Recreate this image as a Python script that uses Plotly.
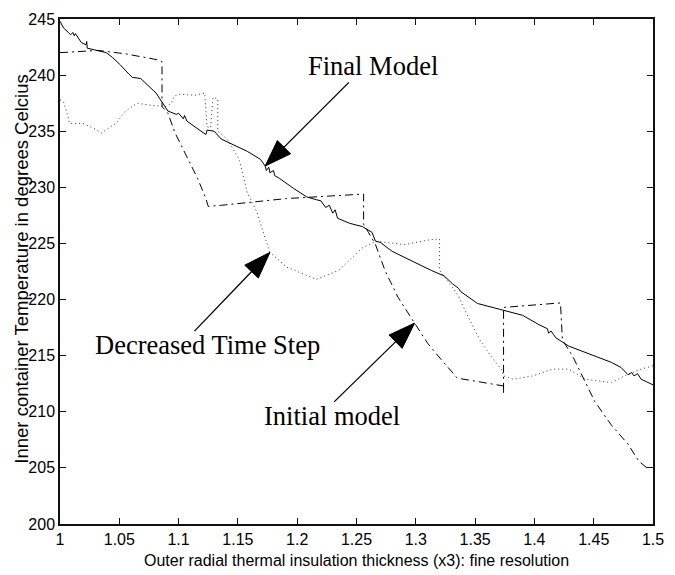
import plotly.graph_objects as go

# ---------------- data ----------------
final_x = [1.000, 1.003, 1.007, 1.009, 1.011, 1.012, 1.013, 1.018, 1.022, 1.0225, 1.023, 1.030, 1.039,
           1.044, 1.051, 1.058, 1.061, 1.068, 1.076, 1.081, 1.086, 1.091, 1.098, 1.100, 1.104, 1.105,
           1.107, 1.114, 1.123, 1.124, 1.130, 1.136, 1.144, 1.158, 1.169, 1.173, 1.174, 1.176, 1.177,
           1.180, 1.181, 1.185, 1.197, 1.208, 1.216, 1.220, 1.224, 1.227, 1.230, 1.232, 1.234, 1.244,
           1.255, 1.263, 1.266, 1.270, 1.280, 1.296, 1.313, 1.324, 1.329, 1.331, 1.336, 1.338, 1.352,
           1.363, 1.374, 1.390, 1.404, 1.411, 1.412, 1.414, 1.416, 1.418, 1.429, 1.440, 1.451, 1.465,
           1.473, 1.479, 1.482, 1.484, 1.487, 1.490, 1.500]
final_y = [244.8, 244.2, 243.8, 243.6, 243.8, 243.5, 243.7, 242.9, 242.7, 243.0, 242.4, 242.2, 242.0,
           241.6, 240.9, 240.1, 239.8, 239.7, 238.9, 238.4, 237.6, 236.8, 236.5, 236.6, 236.1, 236.4,
           235.9, 235.4, 234.7, 235.1, 235.0, 234.3, 233.9, 233.2, 232.5, 231.9, 231.5, 231.8, 231.3,
           231.5, 231.05, 230.8, 229.9, 229.15, 228.9, 228.8, 228.2, 228.4, 227.7, 228.0, 227.25, 226.8,
           226.5, 226.0, 225.2, 225.1, 224.3, 223.45, 222.6, 222.1, 221.6, 221.4, 221.0, 220.7, 219.65,
           219.35, 219.1, 218.6, 217.75, 217.4, 217.0, 217.2, 216.9, 216.6, 215.85, 215.4, 215.0, 214.4,
           213.95, 213.3, 213.5, 213.2, 213.4, 212.9, 212.4]

initial_x = [1.000, 1.032, 1.055, 1.083, 1.086, 1.086, 1.091, 1.097, 1.108, 1.116, 1.123, 1.125,
             1.136, 1.191, 1.256, 1.256, 1.260, 1.266, 1.274, 1.285, 1.299, 1.310, 1.321, 1.335,
             1.374, 1.374, 1.374, 1.422, 1.4236, 1.432, 1.446, 1.451, 1.465, 1.479, 1.488, 1.496]
initial_y = [242.0, 242.2, 241.9, 241.35, 241.2, 237.2, 236.6, 234.85, 232.5, 230.8, 229.0, 228.3,
             228.4, 229.0, 229.4, 226.7, 226.0, 224.9, 222.6, 220.2, 217.9, 216.1, 214.7, 213.0,
             212.3, 211.6, 219.3, 219.7, 216.4, 215.0, 212.0, 210.9, 208.8, 207.1, 205.6, 204.9]

decreased_x = [1.000, 1.003, 1.006, 1.008, 1.019, 1.028, 1.035, 1.047, 1.055, 1.065, 1.077, 1.089,
               1.094, 1.096, 1.100, 1.114, 1.122, 1.124, 1.127, 1.129, 1.133, 1.133, 1.141, 1.151,
               1.158, 1.166, 1.172, 1.177, 1.191, 1.216, 1.235, 1.255, 1.266, 1.291, 1.305, 1.313,
               1.320, 1.320, 1.335, 1.343, 1.354, 1.363, 1.372, 1.374, 1.382, 1.399, 1.415, 1.429,
               1.443, 1.465, 1.476, 1.490, 1.500]
decreased_y = [237.8, 237.6, 236.6, 235.7, 235.7, 235.3, 234.85, 235.7, 236.75, 237.5, 237.3, 237.2,
               237.5, 238.1, 238.3, 238.2, 238.4, 235.4, 235.3, 238.0, 237.9, 235.0, 234.3, 232.5,
               229.5, 227.8, 225.8, 224.2, 222.9, 221.8, 222.6, 224.6, 225.2, 224.9, 225.2, 225.35,
               225.4, 222.6, 220.5, 218.7, 216.4, 215.0, 213.8, 213.2, 212.9, 213.2, 213.8, 213.8,
               212.9, 212.6, 213.2, 213.8, 214.1]

x_ticks = [1, 1.05, 1.1, 1.15, 1.2, 1.25, 1.3, 1.35, 1.4, 1.45, 1.5]
x_tick_labels = ["1", "1.05", "1.1", "1.15", "1.2", "1.25", "1.3", "1.35", "1.4", "1.45", "1.5"]
y_ticks = [200, 205, 210, 215, 220, 225, 230, 235, 240, 245]
y_tick_labels = ["200", "205", "210", "215", "220", "225", "230", "235", "240", "245"]

x_title = "Outer radial thermal insulation thickness (x3): fine resolution"
y_title = "Inner container Temperature in degrees Celcius"

# labels: text, arrow tip in data coords
labels = ["Final Model", "Decreased Time Step", "Initial model"]
tip_x = [1.173, 1.177, 1.299]
tip_y = [231.9, 224.2, 217.9]

# ---------------- layout geometry ----------------
W, H = 675, 575
L, R, T, B = 60, 13, 11, 51
PW, PH = W - L - R, H - T - B
XMIN, XMAX, YMIN, YMAX = 1.0, 1.5, 200.0, 245.0


def x2px(x):
    return L + (x - XMIN) / (XMAX - XMIN) * PW


def y2px(y):
    return T + (YMAX - y) / (YMAX - YMIN) * PH


def px2x(px):
    return XMIN + (px - L) / PW * (XMAX - XMIN)


def px2y(py):
    return YMAX - (py - T) / PH * (YMAX - YMIN)


fig = go.Figure()
fig.add_trace(go.Scatter(x=decreased_x, y=decreased_y, mode="lines",
                         line=dict(color="#333", width=1, dash="1px,3px"), showlegend=False))
fig.add_trace(go.Scatter(x=initial_x, y=initial_y, mode="lines",
                         line=dict(color="black", width=1, dash="8px,4px,2px,4px"), showlegend=False))
fig.add_trace(go.Scatter(x=final_x, y=final_y, mode="lines",
                         line=dict(color="black", width=1), showlegend=False))

# arrows (tail offsets in pixels from tip) and text centres in pixels
tail_off = [(85, -85), (-76.6, 80), (-81.7, 80)]
text_px = [(378, 59), (210, 342), (336.5, 414)]
HEAD_LEN, HEAD_HW = 27, 9.5

shapes = []
annotations = []
for lab, tx, ty, (ox, oy), (cx, cy) in zip(labels, tip_x, tip_y, tail_off, text_px):
    px_tip, py_tip = x2px(tx), y2px(ty)
    px_tail, py_tail = px_tip + ox, py_tip + oy
    dx, dy = px_tip - px_tail, py_tip - py_tail
    n = (dx ** 2 + dy ** 2) ** 0.5
    ux, uy = dx / n, dy / n
    bx, by = px_tip - ux * HEAD_LEN, py_tip - uy * HEAD_LEN
    nx, ny = -uy, ux
    shapes.append(dict(type="line", xref="x", yref="y",
                       x0=px2x(px_tail), y0=px2y(py_tail), x1=px2x(bx + ux * 2), y1=px2y(by + uy * 2),
                       line=dict(color="black", width=1.3)))
    path = "M {},{} L {},{} L {},{} Z".format(
        px2x(px_tip), px2y(py_tip),
        px2x(bx + nx * HEAD_HW), px2y(by + ny * HEAD_HW),
        px2x(bx - nx * HEAD_HW), px2y(by - ny * HEAD_HW))
    shapes.append(dict(type="path", xref="x", yref="y", path=path,
                       fillcolor="black", line=dict(color="black", width=1)))
    annotations.append(dict(text=lab, x=px2x(cx), y=px2y(cy), xref="x", yref="y",
                            showarrow=False, xanchor="center", yanchor="middle",
                            font=dict(family="Liberation Serif, Times New Roman, serif",
                                      size=26.5, color="black")))

annotations.append(dict(text=x_title, xref="paper", yref="paper",
                        x=(361 - L) / PW, y=1 - (561 - T) / PH,
                        showarrow=False, xanchor="center", yanchor="middle",
                        font=dict(family="Liberation Sans, Arial, sans-serif", size=16, color="black")))
annotations.append(dict(text=y_title, xref="paper", yref="paper",
                        x=(20 - L) / PW, y=1 - (265 - T) / PH, textangle=-90,
                        showarrow=False, xanchor="center", yanchor="middle",
                        font=dict(family="Liberation Sans, Arial, sans-serif", size=18.5, color="black")))

axis_common = dict(showgrid=False, zeroline=False, showline=True, linecolor="#111", linewidth=1.5,
                   mirror="allticks", ticks="inside", ticklen=6, tickcolor="#111", tickwidth=1,
                   tickfont=dict(family="Liberation Sans, Arial, sans-serif", size=16, color="black"))

fig.update_layout(
    width=W, height=H,
    margin=dict(l=L, r=R, t=T, b=B, pad=0),
    paper_bgcolor="white", plot_bgcolor="white",
    xaxis=dict(range=[XMIN, XMAX], tickvals=x_ticks, ticktext=x_tick_labels, **axis_common),
    yaxis=dict(range=[YMIN, YMAX], tickvals=y_ticks, ticktext=y_tick_labels, **axis_common),
    shapes=shapes, annotations=annotations, showlegend=False,
)

fig.write_html("out.html")
